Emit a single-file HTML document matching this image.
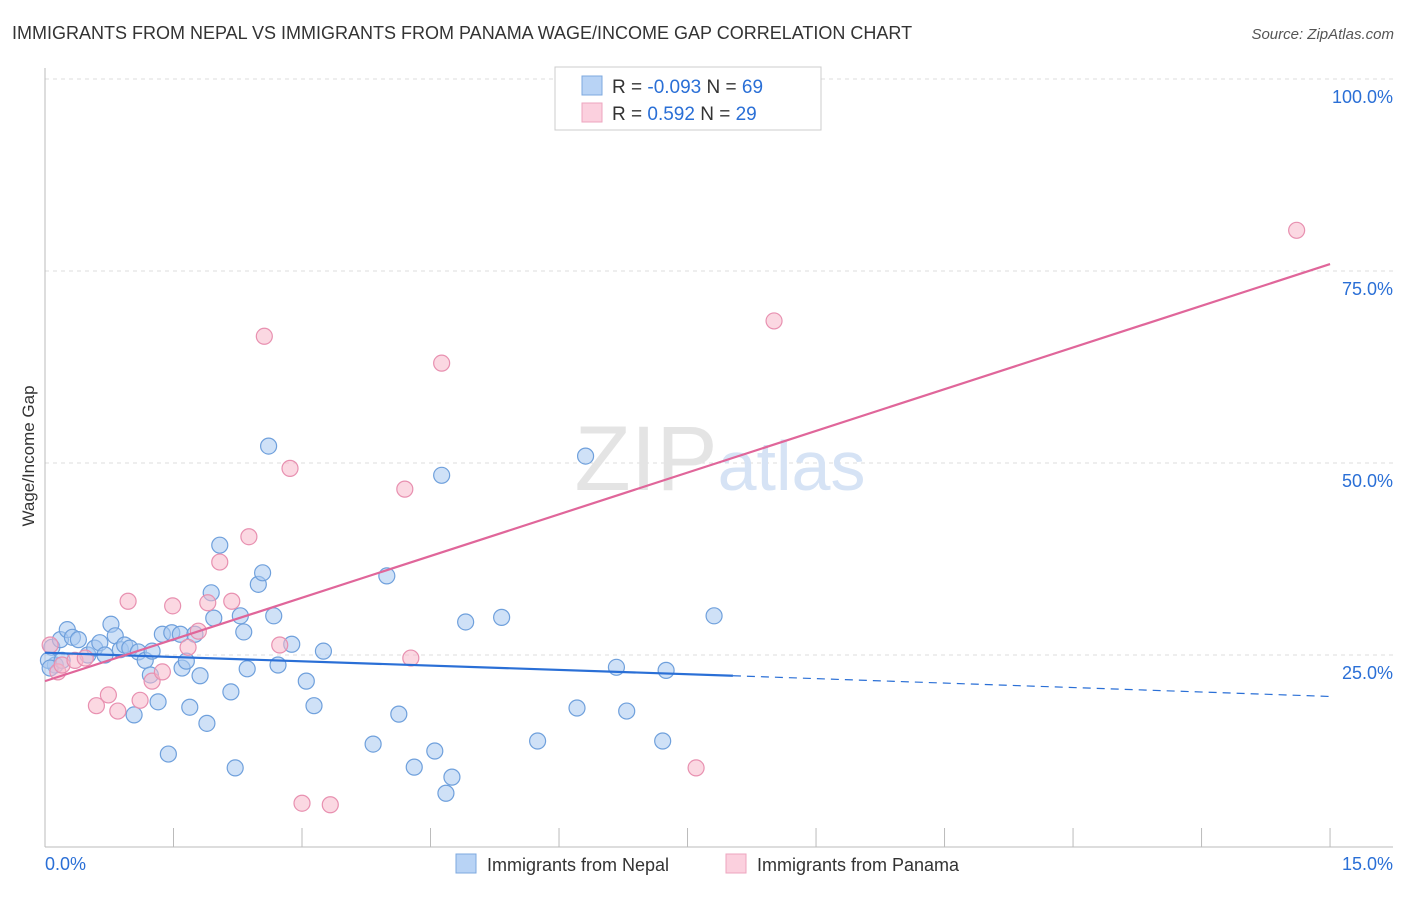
<!DOCTYPE html>
<html><head><meta charset="utf-8">
<style>
body{margin:0;background:#fff;font-family:"Liberation Sans",sans-serif;}
svg text{font-family:"Liberation Sans",sans-serif;}
</style></head>
<body>
<svg width="1406" height="892" viewBox="0 0 1406 892" xmlns="http://www.w3.org/2000/svg">
<text x="12" y="39" font-size="18" fill="#333">IMMIGRANTS FROM NEPAL VS IMMIGRANTS FROM PANAMA WAGE/INCOME GAP CORRELATION CHART</text>
<text x="1394" y="39" font-size="15" fill="#555" text-anchor="end" font-style="italic">Source: ZipAtlas.com</text>
<g id="grid"></g>
<text x="720" y="490" font-size="92" fill="#e4e4e4" text-anchor="middle" font-family="Liberation Serif">ZIP<tspan fill="#d6e3f5" font-family="Liberation Sans" font-size="70">atlas</tspan></text>
<text transform="translate(34,456) rotate(-90)" font-size="17" fill="#333" text-anchor="middle">Wage/Income Gap</text>
<g id="marks"></g>
<g>
<rect x="555" y="67" width="266" height="63" fill="#fff" stroke="#ccc"/>
<rect x="582" y="76" width="20" height="19" fill="#b8d3f5" stroke="#7ea8df"/>
<rect x="582" y="103" width="20" height="19" fill="#fbd0de" stroke="#eea5bf"/>
<text x="612" y="93" font-size="19" fill="#333">R = <tspan fill="#2a6fd6">-0.093</tspan>   N = <tspan fill="#2a6fd6">69</tspan></text>
<text x="612" y="120" font-size="19" fill="#333">R =   <tspan fill="#2a6fd6">0.592</tspan>   N = <tspan fill="#2a6fd6">29</tspan></text>
</g>
<g>
<rect x="456" y="854" width="20" height="19" fill="#b8d3f5" stroke="#7ea8df"/>
<text x="487" y="871" font-size="18" fill="#333">Immigrants from Nepal</text>
<rect x="726" y="854" width="20" height="19" fill="#fbd0de" stroke="#eea5bf"/>
<text x="757" y="871" font-size="18" fill="#333">Immigrants from Panama</text>
</g>
<text x="45" y="870" font-size="18" fill="#2a6fd6">0.0%</text>
<text x="1393" y="870" font-size="18" fill="#2a6fd6" text-anchor="end">15.0%</text>
</svg>
<script>
const nepalX=[0.08,0.12,0.18,0.26,0.32,0.39,0.50,0.58,0.64,0.70,0.77,0.82,0.88,0.93,0.99,1.04,1.09,1.17,1.23,1.25,1.32,1.37,1.44,1.48,1.58,1.60,1.65,1.69,1.75,1.81,1.89,1.94,1.97,2.04,2.17,2.22,2.28,2.32,2.36,2.49,2.54,2.61,2.67,2.72,2.88,3.05,3.14,3.25,3.83,3.99,4.13,4.31,4.55,4.63,4.68,4.75,4.91,5.33,5.75,6.21,6.31,6.67,6.79,7.21,7.25,7.81,0.04,0.06,0.20];
const nepalY=[26.0,23.7,27.0,28.3,27.3,27.0,25.0,25.9,26.6,25.0,29.0,27.5,25.7,26.3,25.9,17.2,25.4,24.3,22.4,25.5,18.9,27.7,12.1,27.9,27.7,23.3,24.2,18.2,27.7,22.3,16.1,33.1,29.8,39.3,20.2,10.3,30.1,28.0,23.2,34.2,35.7,52.2,30.1,23.7,26.4,21.6,18.4,25.5,13.4,35.3,17.3,10.4,12.5,48.4,7.0,9.1,29.3,29.9,13.8,18.1,50.9,23.4,17.7,13.8,23.0,30.1,24.3,23.3,24.3];
const panamaX=[0.06,0.15,0.20,0.35,0.47,0.60,0.74,0.85,0.97,1.11,1.25,1.37,1.49,1.67,1.79,1.90,2.04,2.18,2.38,2.56,2.74,2.86,3.00,3.33,4.20,4.27,4.63,7.60,8.51,14.61];
const panamaY=[26.3,22.8,23.7,24.3,24.6,18.4,19.8,17.7,32.0,19.1,21.6,22.8,31.4,26.0,28.1,31.8,37.1,32.0,40.4,66.5,26.3,49.3,5.7,5.5,46.6,24.6,63.0,10.3,68.5,80.3];
const yTicks=[25,50,75,100];
const yTickLabels=["25.0%","50.0%","75.0%","100.0%"];
const xTicks=[0,1.5,3,4.5,6,7.5,9,10.5,12,13.5,15];
const nepalTrend=[[0,25.3],[8.03,22.3],[15,19.6]];
const panamaTrend=[[0,21.6],[15,75.9]];
const NS="http://www.w3.org/2000/svg";
const xs=v=>45+v*85.67, ys=v=>847-v*7.68;
function mk(t,a,p){const e=document.createElementNS(NS,t);for(const k in a)e.setAttribute(k,a[k]);p.appendChild(e);return e;}
const grid=document.getElementById('grid'), marks=document.getElementById('marks');
yTicks.forEach((t,i)=>{
 const l=mk('line',{x1:45,x2:1393,y1:ys(t),y2:ys(t),stroke:'#ddd','stroke-dasharray':'4,4'},grid);
 
 
 const tx=mk('text',{x:1393,y:ys(t)+24,'font-size':18,fill:'#2a6fd6','text-anchor':'end'},grid);
 tx.textContent=yTickLabels[i];
 
 
});
const ax=mk('line',{x1:45,x2:45,y1:68,y2:847,stroke:'#bbb'},grid);


const bx=mk('line',{x1:45,x2:1393,y1:847,y2:847,stroke:'#bbb'},grid);


xTicks.forEach(t=>{
 const l=mk('line',{x1:xs(t),x2:xs(t),y1:828,y2:847,stroke:'#bbb'},grid);
 
 
});
function pts(X,Y,fill,stroke,name){X.forEach((x,i)=>{
 const c=mk('circle',{cx:xs(x),cy:ys(Y[i]),r:8,fill:fill,'fill-opacity':0.55,stroke:stroke,'stroke-width':1.2},marks);
 
 
});}
pts(nepalX,nepalY,'#a8c8f0','#6fa0dc','nepal-point');
pts(panamaX,panamaY,'#f7b8cb','#e890b0','panama-point');
const b1=mk('line',{x1:xs(nepalTrend[0][0]),y1:ys(nepalTrend[0][1]),x2:xs(nepalTrend[1][0]),y2:ys(nepalTrend[1][1]),stroke:'#2a6fd6','stroke-width':2.2},marks);


const b2=mk('line',{x1:xs(nepalTrend[1][0]),y1:ys(nepalTrend[1][1]),x2:xs(nepalTrend[2][0]),y2:ys(nepalTrend[2][1]),stroke:'#2a6fd6','stroke-width':1.2,'stroke-dasharray':'8,6'},marks);


const p1=mk('line',{x1:xs(panamaTrend[0][0]),y1:ys(panamaTrend[0][1]),x2:xs(panamaTrend[1][0]),y2:ys(panamaTrend[1][1]),stroke:'#e0669a','stroke-width':2.2},marks);


</script>
</body></html>
